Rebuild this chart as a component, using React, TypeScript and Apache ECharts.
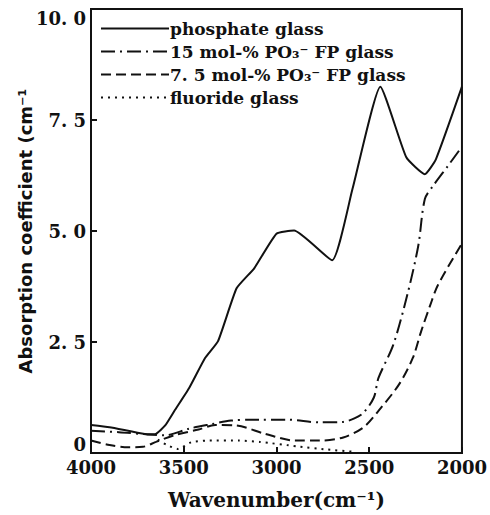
import React, { useEffect, useRef } from "react";
import * as echarts from "echarts";

// Wavenumber (cm^-1) and absorption coefficient (cm^-1)
const phosphateW = [4000, 3900, 3800, 3700, 3650, 3600, 3550, 3470, 3385, 3315, 3215, 3120, 3000, 2905, 2700, 2590, 2440, 2300, 2200, 2140, 2000];
const phosphateV = [0.63, 0.58, 0.5, 0.42, 0.43, 0.62, 0.95, 1.47, 2.14, 2.52, 3.71, 4.16, 4.94, 5.01, 4.34, 5.95, 8.25, 6.66, 6.28, 6.62, 8.25];

const fp15W = [4000, 3850, 3700, 3600, 3470, 3350, 3245, 3100, 2940, 2770, 2640, 2580, 2530, 2475, 2450, 2370, 2290, 2235, 2200, 2155, 2075, 2000];
const fp15V = [0.5, 0.47, 0.42, 0.4, 0.55, 0.65, 0.73, 0.75, 0.75, 0.69, 0.7, 0.78, 0.91, 1.25, 1.69, 2.44, 3.64, 4.68, 5.72, 6.02, 6.47, 6.9];

const fp75W = [4000, 3900, 3800, 3720, 3650, 3550, 3420, 3330, 3220, 3060, 2900, 2770, 2640, 2530, 2450, 2340, 2265, 2220, 2170, 2130, 2000];
const fp75V = [0.28, 0.18, 0.13, 0.14, 0.25, 0.4, 0.53, 0.63, 0.62, 0.43, 0.28, 0.28, 0.35, 0.58, 0.95, 1.54, 2.14, 2.74, 3.34, 3.78, 4.72];

const fluorideW = [3640, 3590, 3530, 3460, 3370, 3200, 3090, 2890, 2730, 2590];
const fluorideV = [0.3, 0.18, 0.09, 0.24, 0.28, 0.28, 0.25, 0.15, 0.08, 0.03];

const seriesNames = [
  "phosphate glass",
  "15 mol-% PO₃⁻ FP glass",
  "7. 5 mol-% PO₃⁻ FP glass",
  "fluoride glass",
];

const yTickLabels: Record<string, string> = { "0": "0", "2.5": "2. 5", "5": "5. 0", "7.5": "7. 5", "10": "10. 0" };

const pairs = (w: number[], v: number[]) => w.map((x, i) => [x, v[i]]);

const INK = "#111";
const SERIF = "DejaVu Serif";

export default function App() {
  const ref = useRef<HTMLDivElement>(null);
  useEffect(() => {
    if (!ref.current) return;
    const chart = echarts.init(ref.current, undefined, { renderer: "svg" });
    const lineSeries = (name: string, data: number[][], type: any, smooth: number | boolean) => ({
      name,
      type: "line",
      data,
      symbol: "none",
      showSymbol: false,
      smooth,
      lineStyle: { color: INK, width: 2, type },
      itemStyle: { color: INK },
    });
    chart.setOption({
      animation: false,
      backgroundColor: "#fff",
      grid: {
        left: 91,
        right: 23,
        top: 9,
        bottom: 59,
        show: true,
        borderColor: INK,
        borderWidth: 2,
        backgroundColor: "transparent",
      },
      legend: {
        orient: "vertical",
        left: 100,
        top: 20,
        padding: 0,
        itemWidth: 68,
        itemHeight: 14,
        itemGap: 6,
        align: "left",
        data: seriesNames,
        itemStyle: { color: "transparent", borderWidth: 0, opacity: 0 },
        textStyle: { fontFamily: SERIF, fontSize: 17, fontWeight: "bold", color: INK, padding: [0, 0, 0, -4] },
      },
      xAxis: {
        type: "value",
        inverse: true,
        min: 2000,
        max: 4000,
        interval: 500,
        name: "Wavenumber(cm⁻¹)",
        nameLocation: "middle",
        nameGap: 37,
        nameMoveOverlap: false,
        nameTextStyle: { fontFamily: SERIF, fontSize: 20, fontWeight: "bold", color: INK },
        axisLine: { lineStyle: { color: INK, width: 2 } },
        axisTick: { inside: true, length: 6, lineStyle: { color: INK, width: 2 } },
        axisLabel: {
          fontFamily: SERIF,
          fontSize: 18,
          fontWeight: "bold",
          color: INK,
          margin: 5,
          formatter: (v: number) => String(v),
        },
        splitLine: { show: false },
      },
      yAxis: {
        type: "value",
        min: 0,
        max: 10,
        interval: 2.5,
        name: "Absorption coefficient (cm⁻¹",
        nameLocation: "middle",
        nameGap: 57,
        nameMoveOverlap: false,
        nameTextStyle: { fontFamily: "DejaVu Sans", fontSize: 18, fontWeight: "bold", color: INK },
        axisLine: { lineStyle: { color: INK, width: 2 } },
        axisTick: { inside: true, length: 6, lineStyle: { color: INK, width: 2 } },
        axisLabel: {
          fontFamily: SERIF,
          fontSize: 18,
          fontWeight: "bold",
          color: INK,
          margin: 5,
          verticalAlignMaxLabel: "top",
          verticalAlignMinLabel: "bottom",
          formatter: (v: number) => yTickLabels[String(v)] ?? String(v),
        },
        splitLine: { show: false },
      },
      series: [
        lineSeries(seriesNames[0], pairs(phosphateW, phosphateV), "solid", 0.15),
        lineSeries(seriesNames[1], pairs(fp15W, fp15V), [14, 5, 2, 5], 0.3),
        lineSeries(seriesNames[2], pairs(fp75W, fp75V), [10, 5], 0.3),
        lineSeries(seriesNames[3], pairs(fluorideW, fluorideV), [2, 5], 0.2),
      ],
    });
    return () => chart.dispose();
  }, []);
  return <div ref={ref} style={{ position: "fixed", left: 0, top: 0, width: 490, height: 515 }} />;
}
